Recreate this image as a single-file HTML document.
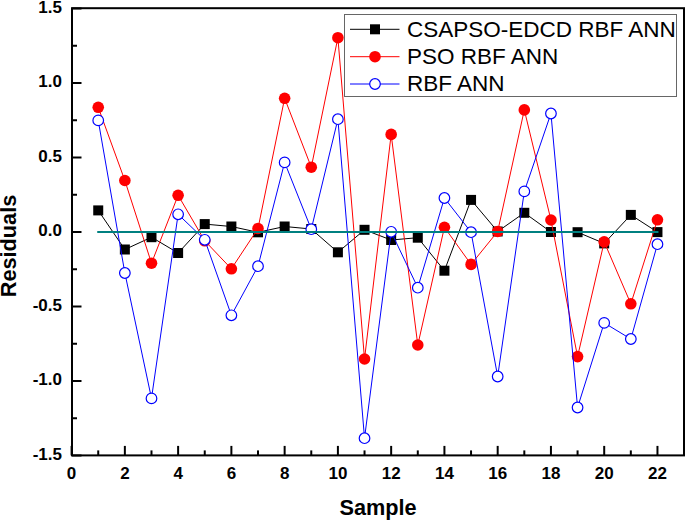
<!DOCTYPE html>
<html><head><meta charset="utf-8"><style>
html,body{margin:0;padding:0;background:#fff;width:685px;height:520px;overflow:hidden}
svg{display:block}
text{font-family:"Liberation Sans",sans-serif}
.tl{font-size:17px;font-weight:bold}
.at{font-size:21.7px;font-weight:bold}
.lg{font-size:22.5px}
</style></head><body>
<svg width="685" height="520" viewBox="0 0 685 520">
<rect x="0" y="0" width="685" height="520" fill="#fff"/>
<polyline points="98.23,210.40 124.86,249.50 151.49,237.20 178.12,253.00 204.75,224.10 231.38,226.50 258.01,232.30 284.64,226.50 311.27,229.00 337.90,252.30 364.53,229.80 391.16,240.00 417.79,237.70 444.42,270.70 471.05,199.90 497.68,231.50 524.31,212.80 550.94,232.00 577.57,232.20 604.20,243.40 630.83,214.90 657.46,232.10" fill="none" stroke="#000" stroke-width="1"/>
<rect x="93.23" y="205.40" width="10" height="10" fill="#000"/>
<rect x="119.86" y="244.50" width="10" height="10" fill="#000"/>
<rect x="146.49" y="232.20" width="10" height="10" fill="#000"/>
<rect x="173.12" y="248.00" width="10" height="10" fill="#000"/>
<rect x="199.75" y="219.10" width="10" height="10" fill="#000"/>
<rect x="226.38" y="221.50" width="10" height="10" fill="#000"/>
<rect x="253.01" y="227.30" width="10" height="10" fill="#000"/>
<rect x="279.64" y="221.50" width="10" height="10" fill="#000"/>
<rect x="306.27" y="224.00" width="10" height="10" fill="#000"/>
<rect x="332.90" y="247.30" width="10" height="10" fill="#000"/>
<rect x="359.53" y="224.80" width="10" height="10" fill="#000"/>
<rect x="386.16" y="235.00" width="10" height="10" fill="#000"/>
<rect x="412.79" y="232.70" width="10" height="10" fill="#000"/>
<rect x="439.42" y="265.70" width="10" height="10" fill="#000"/>
<rect x="466.05" y="194.90" width="10" height="10" fill="#000"/>
<rect x="492.68" y="226.50" width="10" height="10" fill="#000"/>
<rect x="519.31" y="207.80" width="10" height="10" fill="#000"/>
<rect x="545.94" y="227.00" width="10" height="10" fill="#000"/>
<rect x="572.57" y="227.20" width="10" height="10" fill="#000"/>
<rect x="599.20" y="238.40" width="10" height="10" fill="#000"/>
<rect x="625.83" y="209.90" width="10" height="10" fill="#000"/>
<rect x="652.46" y="227.10" width="10" height="10" fill="#000"/>
<polyline points="98.23,107.30 124.86,180.50 151.49,263.20 178.12,195.30 204.75,240.80 231.38,268.80 258.01,228.50 284.64,98.30 311.27,167.20 337.90,37.70 364.53,359.00 391.16,134.40 417.79,345.00 444.42,227.30 471.05,264.40 497.68,231.50 524.31,109.90 550.94,220.00 577.57,356.60 604.20,241.90 630.83,303.80 657.46,219.80" fill="none" stroke="#f00" stroke-width="1"/>
<circle cx="98.23" cy="107.30" r="5.8" fill="#f00"/>
<circle cx="124.86" cy="180.50" r="5.8" fill="#f00"/>
<circle cx="151.49" cy="263.20" r="5.8" fill="#f00"/>
<circle cx="178.12" cy="195.30" r="5.8" fill="#f00"/>
<circle cx="204.75" cy="240.80" r="5.8" fill="#f00"/>
<circle cx="231.38" cy="268.80" r="5.8" fill="#f00"/>
<circle cx="258.01" cy="228.50" r="5.8" fill="#f00"/>
<circle cx="284.64" cy="98.30" r="5.8" fill="#f00"/>
<circle cx="311.27" cy="167.20" r="5.8" fill="#f00"/>
<circle cx="337.90" cy="37.70" r="5.8" fill="#f00"/>
<circle cx="364.53" cy="359.00" r="5.8" fill="#f00"/>
<circle cx="391.16" cy="134.40" r="5.8" fill="#f00"/>
<circle cx="417.79" cy="345.00" r="5.8" fill="#f00"/>
<circle cx="444.42" cy="227.30" r="5.8" fill="#f00"/>
<circle cx="471.05" cy="264.40" r="5.8" fill="#f00"/>
<circle cx="497.68" cy="231.50" r="5.8" fill="#f00"/>
<circle cx="524.31" cy="109.90" r="5.8" fill="#f00"/>
<circle cx="550.94" cy="220.00" r="5.8" fill="#f00"/>
<circle cx="577.57" cy="356.60" r="5.8" fill="#f00"/>
<circle cx="604.20" cy="241.90" r="5.8" fill="#f00"/>
<circle cx="630.83" cy="303.80" r="5.8" fill="#f00"/>
<circle cx="657.46" cy="219.80" r="5.8" fill="#f00"/>
<polyline points="98.23,120.40 124.86,273.00 151.49,398.40 178.12,214.30 204.75,239.80 231.38,315.30 258.01,266.20 284.64,162.40 311.27,229.20 337.90,119.20 364.53,438.20 391.16,231.80 417.79,287.70 444.42,198.00 471.05,232.20 497.68,376.50 524.31,191.40 550.94,113.50 577.57,407.50 604.20,322.90 630.83,339.00 657.46,244.20" fill="none" stroke="#00f" stroke-width="1"/>
<circle cx="98.23" cy="120.40" r="5.3" fill="#fff" stroke="#00f" stroke-width="1.2"/>
<circle cx="124.86" cy="273.00" r="5.3" fill="#fff" stroke="#00f" stroke-width="1.2"/>
<circle cx="151.49" cy="398.40" r="5.3" fill="#fff" stroke="#00f" stroke-width="1.2"/>
<circle cx="178.12" cy="214.30" r="5.3" fill="#fff" stroke="#00f" stroke-width="1.2"/>
<circle cx="204.75" cy="239.80" r="5.3" fill="#fff" stroke="#00f" stroke-width="1.2"/>
<circle cx="231.38" cy="315.30" r="5.3" fill="#fff" stroke="#00f" stroke-width="1.2"/>
<circle cx="258.01" cy="266.20" r="5.3" fill="#fff" stroke="#00f" stroke-width="1.2"/>
<circle cx="284.64" cy="162.40" r="5.3" fill="#fff" stroke="#00f" stroke-width="1.2"/>
<circle cx="311.27" cy="229.20" r="5.3" fill="#fff" stroke="#00f" stroke-width="1.2"/>
<circle cx="337.90" cy="119.20" r="5.3" fill="#fff" stroke="#00f" stroke-width="1.2"/>
<circle cx="364.53" cy="438.20" r="5.3" fill="#fff" stroke="#00f" stroke-width="1.2"/>
<circle cx="391.16" cy="231.80" r="5.3" fill="#fff" stroke="#00f" stroke-width="1.2"/>
<circle cx="417.79" cy="287.70" r="5.3" fill="#fff" stroke="#00f" stroke-width="1.2"/>
<circle cx="444.42" cy="198.00" r="5.3" fill="#fff" stroke="#00f" stroke-width="1.2"/>
<circle cx="471.05" cy="232.20" r="5.3" fill="#fff" stroke="#00f" stroke-width="1.2"/>
<circle cx="497.68" cy="376.50" r="5.3" fill="#fff" stroke="#00f" stroke-width="1.2"/>
<circle cx="524.31" cy="191.40" r="5.3" fill="#fff" stroke="#00f" stroke-width="1.2"/>
<circle cx="550.94" cy="113.50" r="5.3" fill="#fff" stroke="#00f" stroke-width="1.2"/>
<circle cx="577.57" cy="407.50" r="5.3" fill="#fff" stroke="#00f" stroke-width="1.2"/>
<circle cx="604.20" cy="322.90" r="5.3" fill="#fff" stroke="#00f" stroke-width="1.2"/>
<circle cx="630.83" cy="339.00" r="5.3" fill="#fff" stroke="#00f" stroke-width="1.2"/>
<circle cx="657.46" cy="244.20" r="5.3" fill="#fff" stroke="#00f" stroke-width="1.2"/>
<line x1="98.23" y1="232" x2="657.46" y2="232" stroke="#008080" stroke-width="2" stroke-linecap="square"/>
<rect x="72.0" y="8.2" width="612.0" height="447.2" fill="none" stroke="#000" stroke-width="2"/>
<line x1="72.0" y1="8.50" x2="81.50" y2="8.50" stroke="#000" stroke-width="2"/>
<line x1="72.0" y1="45.75" x2="77.00" y2="45.75" stroke="#000" stroke-width="2"/>
<line x1="72.0" y1="83.00" x2="81.50" y2="83.00" stroke="#000" stroke-width="2"/>
<line x1="72.0" y1="120.25" x2="77.00" y2="120.25" stroke="#000" stroke-width="2"/>
<line x1="72.0" y1="157.50" x2="81.50" y2="157.50" stroke="#000" stroke-width="2"/>
<line x1="72.0" y1="194.75" x2="77.00" y2="194.75" stroke="#000" stroke-width="2"/>
<line x1="72.0" y1="232.00" x2="81.50" y2="232.00" stroke="#000" stroke-width="2"/>
<line x1="72.0" y1="269.25" x2="77.00" y2="269.25" stroke="#000" stroke-width="2"/>
<line x1="72.0" y1="306.50" x2="81.50" y2="306.50" stroke="#000" stroke-width="2"/>
<line x1="72.0" y1="343.75" x2="77.00" y2="343.75" stroke="#000" stroke-width="2"/>
<line x1="72.0" y1="381.00" x2="81.50" y2="381.00" stroke="#000" stroke-width="2"/>
<line x1="72.0" y1="418.25" x2="77.00" y2="418.25" stroke="#000" stroke-width="2"/>
<line x1="72.0" y1="455.50" x2="81.50" y2="455.50" stroke="#000" stroke-width="2"/>
<line x1="71.60" y1="455.4" x2="71.60" y2="445.9" stroke="#000" stroke-width="2"/>
<line x1="98.23" y1="455.4" x2="98.23" y2="450.4" stroke="#000" stroke-width="2"/>
<line x1="124.86" y1="455.4" x2="124.86" y2="445.9" stroke="#000" stroke-width="2"/>
<line x1="151.49" y1="455.4" x2="151.49" y2="450.4" stroke="#000" stroke-width="2"/>
<line x1="178.12" y1="455.4" x2="178.12" y2="445.9" stroke="#000" stroke-width="2"/>
<line x1="204.75" y1="455.4" x2="204.75" y2="450.4" stroke="#000" stroke-width="2"/>
<line x1="231.38" y1="455.4" x2="231.38" y2="445.9" stroke="#000" stroke-width="2"/>
<line x1="258.01" y1="455.4" x2="258.01" y2="450.4" stroke="#000" stroke-width="2"/>
<line x1="284.64" y1="455.4" x2="284.64" y2="445.9" stroke="#000" stroke-width="2"/>
<line x1="311.27" y1="455.4" x2="311.27" y2="450.4" stroke="#000" stroke-width="2"/>
<line x1="337.90" y1="455.4" x2="337.90" y2="445.9" stroke="#000" stroke-width="2"/>
<line x1="364.53" y1="455.4" x2="364.53" y2="450.4" stroke="#000" stroke-width="2"/>
<line x1="391.16" y1="455.4" x2="391.16" y2="445.9" stroke="#000" stroke-width="2"/>
<line x1="417.79" y1="455.4" x2="417.79" y2="450.4" stroke="#000" stroke-width="2"/>
<line x1="444.42" y1="455.4" x2="444.42" y2="445.9" stroke="#000" stroke-width="2"/>
<line x1="471.05" y1="455.4" x2="471.05" y2="450.4" stroke="#000" stroke-width="2"/>
<line x1="497.68" y1="455.4" x2="497.68" y2="445.9" stroke="#000" stroke-width="2"/>
<line x1="524.31" y1="455.4" x2="524.31" y2="450.4" stroke="#000" stroke-width="2"/>
<line x1="550.94" y1="455.4" x2="550.94" y2="445.9" stroke="#000" stroke-width="2"/>
<line x1="577.57" y1="455.4" x2="577.57" y2="450.4" stroke="#000" stroke-width="2"/>
<line x1="604.20" y1="455.4" x2="604.20" y2="445.9" stroke="#000" stroke-width="2"/>
<line x1="630.83" y1="455.4" x2="630.83" y2="450.4" stroke="#000" stroke-width="2"/>
<line x1="657.46" y1="455.4" x2="657.46" y2="445.9" stroke="#000" stroke-width="2"/>
<line x1="684.09" y1="455.4" x2="684.09" y2="450.4" stroke="#000" stroke-width="2"/>
<text x="62" y="12.90" text-anchor="end" class="tl">1.5</text>
<text x="62" y="87.40" text-anchor="end" class="tl">1.0</text>
<text x="62" y="161.90" text-anchor="end" class="tl">0.5</text>
<text x="62" y="236.40" text-anchor="end" class="tl">0.0</text>
<text x="62" y="310.90" text-anchor="end" class="tl">-0.5</text>
<text x="62" y="385.40" text-anchor="end" class="tl">-1.0</text>
<text x="62" y="459.90" text-anchor="end" class="tl">-1.5</text>
<text x="71.60" y="479" text-anchor="middle" class="tl">0</text>
<text x="124.86" y="479" text-anchor="middle" class="tl">2</text>
<text x="178.12" y="479" text-anchor="middle" class="tl">4</text>
<text x="231.38" y="479" text-anchor="middle" class="tl">6</text>
<text x="284.64" y="479" text-anchor="middle" class="tl">8</text>
<text x="337.90" y="479" text-anchor="middle" class="tl">10</text>
<text x="391.16" y="479" text-anchor="middle" class="tl">12</text>
<text x="444.42" y="479" text-anchor="middle" class="tl">14</text>
<text x="497.68" y="479" text-anchor="middle" class="tl">16</text>
<text x="550.94" y="479" text-anchor="middle" class="tl">18</text>
<text x="604.20" y="479" text-anchor="middle" class="tl">20</text>
<text x="657.46" y="479" text-anchor="middle" class="tl">22</text>
<text x="378" y="515.2" text-anchor="middle" class="at">Sample</text>
<text transform="translate(16.2,246) rotate(-90)" x="0" y="0" text-anchor="middle" class="at">Residuals</text>
<rect x="344.5" y="14.5" width="332" height="82" fill="#fff" stroke="#666" stroke-width="1"/>
<line x1="350" y1="29.3" x2="399.5" y2="29.3" stroke="#000" stroke-width="1"/>
<rect x="370" y="24.3" width="10" height="10" fill="#000"/>
<text x="407" y="36.70" class="lg">CSAPSO-EDCD RBF ANN</text>
<line x1="350" y1="56.7" x2="399.5" y2="56.7" stroke="#f00" stroke-width="1"/>
<circle cx="375" cy="56.7" r="5.8" fill="#f00"/>
<text x="407" y="64.00" class="lg">PSO RBF ANN</text>
<line x1="350" y1="84.0" x2="399.5" y2="84.0" stroke="#00f" stroke-width="1"/>
<circle cx="375" cy="84.0" r="5.3" fill="#fff" stroke="#00f" stroke-width="1.2"/>
<text x="407" y="91.30" class="lg">RBF ANN</text>
</svg>
</body></html>
